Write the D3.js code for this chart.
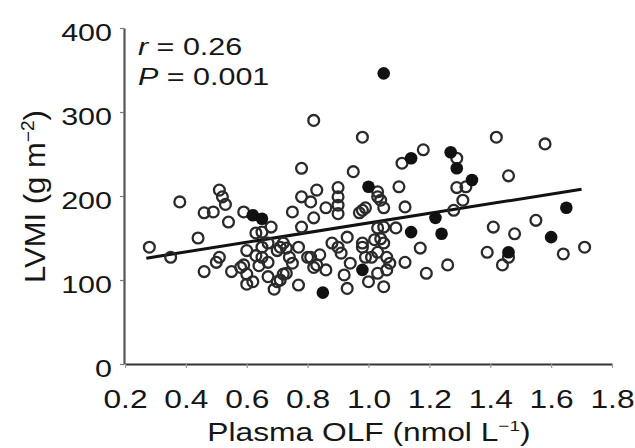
<!DOCTYPE html>
<html><head><meta charset="utf-8">
<script src="https://cdn.jsdelivr.net/npm/d3@7"></script>
<style>
body{margin:0;background:#fff}
svg{display:block}
text{font-family:"Liberation Sans",Arial,Helvetica,sans-serif;fill:#161616}
</style>
</head><body><svg id="c" width="635" height="448"></svg>
<script>
// Open circles (x: plasma OLF nmol/L, y: LVMI g/m2)
const openX = [0.28,0.35,0.38,0.44,0.46,0.46,0.49,0.50,0.51,0.51,0.52,0.53,0.54,0.55,0.58,0.59,0.59,0.60,0.60,0.60,
  0.62,0.63,0.64,0.65,0.65,0.67,0.67,0.68,0.69,0.70,0.70,0.63,0.67,0.73,0.82,0.98,0.78,0.95,1.18,1.11,
  1.29,0.83,0.90,0.90,0.90,1.03,1.04,1.10,1.05,1.12,0.75,0.78,0.81,0.86,0.82,0.90,0.97,0.99,1.09,1.29,
  1.32,1.31,1.28,1.17,1.26,1.19,1.12,1.03,1.04,0.98,0.93,0.88,0.91,0.84,0.80,0.77,0.74,0.72,0.75,0.82,
  0.86,0.94,0.99,1.03,1.06,1.06,0.92,1.00,1.05,0.93,0.77,0.73,0.71,0.78,1.42,1.58,1.46,1.55,1.41,1.48,
  1.39,1.46,1.44,1.64,1.71,1.03,0.98,
  0.98,1.03,1.01,1.02,0.81,0.83,0.90,0.72,0.65,0.71,1.07,1.05,1.05];
const openY = [139,127,193,150,110,180,181,121,127,207,199,190,169,110,115,181,118,135,107,95,
  98,129,117,157,139,144,104,163,89,135,98,156,121,138,290,270,233,229,255,239,
  245,207,210,199,189,205,195,211,186,187,181,199,193,186,174,179,180,186,162,210,
  211,195,183,138,118,108,121,162,149,144,151,144,132,130,127,139,127,144,120,115,
  112,120,127,133,127,112,106,98,92,90,94,108,100,163,270,262,224,171,163,155,
  133,127,118,131,139,108,139,
  183,199,127,148,127,118,139,107,127,139,120,163,144];
// Filled circles
const filledX = [1.05,0.62,0.65,1.00,1.14,1.27,1.29,1.34,1.22,1.14,1.24,1.65,1.60,1.46,0.98,0.85];
const filledY = [346,177,173,211,245,252,233,219,174,157,155,186,151,133,112,85];
// Regression line end points
const fitX = [0.27, 1.70];
const fitY = [126, 208];
// Axis ticks
const xTicks = [0.2,0.4,0.6,0.8,1.0,1.2,1.4,1.6,1.8];
const yTicks = [0,100,200,300,400];

const SX = 1.27; // horizontal text stretch of the reference
const svg = d3.select("#c");
const x = d3.scaleLinear().domain([0.2,1.8]).range([125,612]);
const y = d3.scaleLinear().domain([0,400]).range([364,28]);

// Y axis
const gy = svg.append("g").attr("transform","translate(124,0)")
  .call(d3.axisLeft(y).tickValues(yTicks).tickSize(4).tickSizeOuter(0));
gy.select(".domain").attr("stroke","#555").attr("stroke-width",2.2);
gy.selectAll(".tick line").attr("stroke","#777").attr("stroke-width",1.2);
gy.selectAll(".tick text").attr("font-size",24).attr("fill","#161616")
  .attr("x",-12/SX).attr("dy","0.5em").attr("transform",`scale(${SX},1)`)
  .style("font-family","'Liberation Sans',Arial,sans-serif");

// X axis
const gx = svg.append("g").attr("transform","translate(0,364)")
  .call(d3.axisBottom(x).tickValues(xTicks).tickSize(4).tickSizeOuter(0).tickFormat(d3.format(".1f")));
gx.select(".domain").attr("stroke","#333").attr("stroke-width",2.2);
gx.selectAll(".tick line").attr("stroke","#999").attr("stroke-width",1.2);
gx.selectAll(".tick text").attr("font-size",25).attr("fill","#161616")
  .attr("y",26).attr("transform",`scale(${SX},1)`)
  .style("font-family","'Liberation Sans',Arial,sans-serif");

// Regression line
const fit = fitX.map((v,i)=>[v,fitY[i]]);
svg.append("path").datum(fit)
  .attr("d", d3.line().x(d=>x(d[0])).y(d=>y(d[1])))
  .attr("stroke","#111").attr("stroke-width",3).attr("fill","none");

// Open points
const openPts = openX.map((v,i)=>[v,openY[i]]);
svg.append("g").selectAll("circle").data(openPts).join("circle")
  .attr("cx",d=>x(d[0])).attr("cy",d=>y(d[1])).attr("r",5.4)
  .attr("fill","none").attr("stroke","#2a2a2a").attr("stroke-width",2.3);

// Filled points
const filledPts = filledX.map((v,i)=>[v,filledY[i]]);
svg.append("g").selectAll("circle").data(filledPts).join("circle")
  .attr("cx",d=>x(d[0])).attr("cy",d=>y(d[1])).attr("r",6.3)
  .attr("fill","#111").attr("stroke","none");

// Stats text
const st = svg.append("g").attr("transform",`translate(138,0)`);
const t1 = st.append("text").attr("transform",`translate(0,55) scale(${SX},1)`).attr("font-size",24);
t1.append("tspan").attr("font-style","italic").text("r");
t1.append("tspan").text(" = 0.26");
const t2 = st.append("text").attr("transform",`translate(0,85) scale(${SX},1)`).attr("font-size",24);
t2.append("tspan").attr("font-style","italic").text("P");
t2.append("tspan").text(" = 0.001");

// X title
const xt = svg.append("text").attr("transform",`translate(369,441) scale(${SX},1)`)
  .attr("text-anchor","middle").attr("font-size",25);
xt.append("tspan").text("Plasma OLF (nmol L");
xt.append("tspan").attr("font-size",15).attr("dy",-10).text("\u22121");
xt.append("tspan").attr("dy",10).text(")");

// Y title: fitted to span y 110..283 in the reference
const yt = svg.append("text").attr("text-anchor","middle").attr("font-size",26);
yt.append("tspan").text("LVMI (g m");
yt.append("tspan").attr("font-size",16).attr("dy",-10).text("\u22122");
yt.append("tspan").attr("dy",10).text(")");
const len = yt.node().getComputedTextLength();
const ls = 173 / len;
yt.attr("transform",`translate(45,196.5) rotate(-90) scale(${ls},1.12)`);
</script></body></html>
